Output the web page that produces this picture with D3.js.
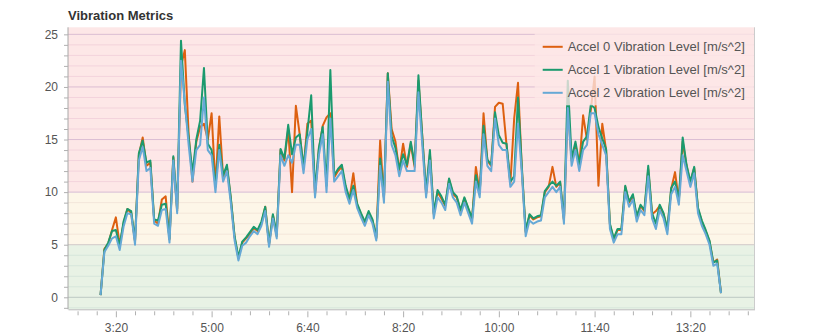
<!DOCTYPE html>
<html>
<head>
<meta charset="utf-8">
<script src="https://cdn.jsdelivr.net/npm/d3@7"></script>
<style>
  body { margin: 0; background: #fff; }
  svg { display: block; font-family: "Liberation Sans", Arial, sans-serif; }
</style>
</head>
<body>
<svg id="chart" width="840" height="336"></svg>
<script>
// Vibration metrics, one reading every 4 minutes from 3:04
const seriesNames = [
  "Accel 0 Vibration Level [m/s^2]",
  "Accel 1 Vibration Level [m/s^2]",
  "Accel 2 Vibration Level [m/s^2]"
];
const startClock = "3:04";
const stepMinutes = 4;

const accel0 = [
  0.2, 4.6, 5.1, 6.4, 7.6, 5.0, 7.0, 8.4, 8.0, 5.3,
  13.5, 15.2, 12.5, 12.8, 7.3, 7.0, 9.3, 9.6, 5.5, 13.3,
  8.2, 22.0, 23.5, 15.5, 11.0, 14.8, 16.2, 16.5, 15.0, 17.5,
  10.5, 17.2, 11.4, 12.4, 9.4, 5.7, 3.7, 5.2, 5.6, 6.0,
  6.6, 6.3, 7.0, 8.6, 5.0, 7.8, 5.8, 14.0, 13.0, 16.0,
  10.0, 18.2, 15.5, 12.2, 16.5, 16.8, 9.8, 14.0, 16.3, 17.1,
  17.5, 11.4, 12.0, 12.4, 10.4, 9.3, 11.8, 8.8, 7.9, 7.1,
  8.0, 7.3, 5.6, 14.9, 9.4, 21.3, 16.0, 14.8, 12.0, 14.6,
  12.4, 14.6, 12.4, 20.6, 15.3, 9.8, 13.6, 7.9, 10.0, 9.4,
  8.7, 11.2, 9.8, 9.5, 8.2, 9.4, 8.4, 7.4, 12.4, 9.9,
  17.5, 13.0, 12.5, 18.1, 18.5, 18.4, 14.5, 10.8, 17.0, 20.4,
  12.2, 6.2, 7.8, 7.4, 7.6, 7.7, 10.0, 10.5, 12.4, 10.5,
  10.9, 7.3, 18.2, 13.0, 14.5, 12.5, 17.3, 15.0, 17.8, 21.0,
  10.6, 16.5, 14.0, 6.9, 5.5, 6.4, 6.4, 10.5, 9.0, 9.6,
  7.6, 8.7, 8.2, 12.2, 7.9, 8.2, 8.7, 7.9, 6.4, 10.3,
  11.9, 9.2, 14.8, 12.5, 10.9, 12.3, 8.4, 7.2, 6.3, 5.3,
  3.3, 3.6, 0.4
];
const accel1 = [
  0.2, 4.5, 5.2, 6.3, 6.4, 4.9, 7.2, 8.4, 8.2, 5.4,
  13.7, 14.9, 12.8, 13.0, 7.4, 7.3, 8.8, 8.9, 5.6, 13.4,
  8.4, 24.4, 18.3, 15.2, 11.8, 15.0, 16.8, 21.8, 14.6, 14.0,
  10.6, 14.5, 11.6, 12.6, 9.5, 5.8, 3.8, 5.3, 5.7, 6.2,
  6.7, 6.4, 7.2, 8.6, 5.1, 7.9, 6.0, 14.1, 13.2, 16.4,
  13.6, 15.2, 15.5, 12.4, 15.7, 19.2, 10.1, 14.2, 16.2, 10.6,
  21.6, 11.6, 12.2, 12.6, 10.6, 9.4, 10.6, 8.9, 8.0, 7.2,
  8.2, 7.4, 5.7, 13.2, 9.5, 21.3, 15.3, 14.2, 12.2, 13.6,
  12.6, 14.8, 12.6, 21.1, 15.3, 10.0, 14.0, 8.0, 10.2, 9.6,
  8.8, 11.3, 10.0, 9.6, 8.3, 9.5, 8.5, 7.5, 11.6, 10.0,
  16.3, 13.1, 12.6, 17.6, 15.4, 14.7, 14.6, 11.0, 11.5, 19.0,
  12.4, 6.3, 7.9, 7.5, 7.7, 7.8, 10.1, 10.6, 11.0, 10.6,
  11.0, 7.4, 20.6, 13.2, 14.8, 12.7, 14.8, 15.3, 18.3, 18.0,
  16.2, 15.1, 14.1, 7.0, 5.6, 6.5, 6.5, 10.6, 9.1, 9.8,
  7.7, 8.8, 8.3, 12.5, 8.0, 7.0, 8.8, 8.0, 6.5, 10.4,
  11.0, 9.3, 15.2, 12.6, 11.0, 12.4, 8.5, 7.3, 6.4, 5.4,
  3.3, 3.5, 0.4
];
const accel2 = [
  0.2, 4.3, 4.9, 5.6, 5.8, 4.5, 6.7, 8.0, 7.9, 5.0,
  13.0, 14.3, 12.0, 12.3, 7.0, 6.8, 8.3, 8.4, 5.2, 13.0,
  8.0, 22.5, 18.5, 14.5, 11.0, 14.0, 14.5, 19.0, 14.0, 13.5,
  10.0, 14.0, 11.0, 12.0, 9.0, 5.4, 3.5, 4.9, 5.2, 5.8,
  6.3, 6.0, 6.8, 8.2, 4.8, 7.5, 5.6, 13.5, 12.5, 13.5,
  12.8, 14.5, 14.5, 11.8, 15.0, 16.0, 9.5, 13.5, 15.5, 10.0,
  17.0, 11.0, 11.5, 12.0, 10.0, 8.9, 10.2, 8.5, 7.6, 6.8,
  7.8, 7.0, 5.4, 12.5, 9.0, 20.5, 14.5, 13.5, 11.5, 13.0,
  12.0, 12.0, 12.0, 19.5, 14.5, 9.5, 13.0, 7.5, 9.5, 9.0,
  8.3, 10.8, 9.5, 9.0, 7.8, 9.0, 8.0, 7.0, 11.0, 9.5,
  15.5, 12.5, 12.0, 17.0, 14.5, 14.0, 14.0, 10.5, 11.0, 16.5,
  11.8, 5.8, 7.3, 7.0, 7.2, 7.3, 9.5, 10.0, 10.5, 10.0,
  10.5, 7.0, 18.0, 12.5, 14.0, 12.0, 14.0, 14.5, 17.5, 17.5,
  15.5, 14.5, 13.5, 6.5, 5.2, 6.0, 6.0, 10.0, 8.6, 9.3,
  7.2, 8.3, 7.8, 11.5, 7.5, 6.5, 8.3, 7.5, 6.0, 9.8,
  10.5, 8.8, 13.5, 12.0, 10.5, 11.8, 8.0, 6.8, 6.0, 5.0,
  3.0, 3.2, 0.4
];

const xDomainClock = ["2:30", "14:27"];
const yDomain = [-1.14, 25.67];
const yTickValues = [0, 5, 10, 15, 20, 25];
const xTickLabels = ["3:20", "5:00", "6:40", "8:20", "10:00", "11:40", "13:20"];
const bandEdges = [5, 10];   // green below 5, yellow 5..10, red above 10

const colors = ["#dd6010", "#1b9a6e", "#66a9d6"];

const width = 840, height = 336;
const margin = { top: 27.3, right: 85.5, bottom: 26.7, left: 68 };
const innerW = width - margin.left - margin.right;
const innerH = height - margin.top - margin.bottom;

const parseClock = d3.timeParse("%H:%M");
const fmtClock = d3.timeFormat("%-H:%M");
const t0 = parseClock(startClock);

const rows = accel0.map((v, i) => ({
  t: d3.timeMinute.offset(t0, i * stepMinutes),
  v: [v, accel1[i], accel2[i]]
}));

const x = d3.scaleTime()
  .domain(xDomainClock.map(parseClock))
  .range([0, innerW]);
const y = d3.scaleLinear().domain(yDomain).range([innerH, 0]);

const svg = d3.select("#chart");

svg.append("text")
  .attr("x", margin.left)
  .attr("y", 20)
  .attr("font-size", 13)
  .attr("font-weight", "bold")
  .attr("fill", "#333")
  .text("Vibration Metrics");

const g = svg.append("g").attr("transform", `translate(${margin.left},${margin.top})`);

// zone bands
const bands = [
  { lo: yDomain[0], hi: bandEdges[0], fill: "#e8f2e5", minor: "#d6e6db", major: "#bcc8c4" },
  { lo: bandEdges[0], hi: bandEdges[1], fill: "#fdf6e8", minor: "#f3e6da", major: "#d0c8c8" },
  { lo: bandEdges[1], hi: yDomain[1], fill: "#fde7e7", minor: "#f3d3dc", major: "#dbbdd3" }
];
g.selectAll("rect.band").data(bands).join("rect")
  .attr("class", "band")
  .attr("x", 0).attr("width", innerW)
  .attr("y", d => y(d.hi)).attr("height", d => y(d.lo) - y(d.hi))
  .attr("fill", d => d.fill);

// grid lines every 1 unit, stronger every 5
const bandOf = v => bands.find(b => v < b.hi) || bands[2];
const gridVals = d3.range(Math.ceil(yDomain[0]), Math.floor(yDomain[1]) + 1);
g.selectAll("line.grid").data(gridVals).join("line")
  .attr("class", "grid")
  .attr("x1", 0).attr("x2", innerW)
  .attr("y1", d => y(d)).attr("y2", d => y(d))
  .attr("stroke", d => {
    if (d === bandEdges[1]) return "#d6bcd4";
    const b = bandOf(d);
    return d % 5 === 0 ? b.major : b.minor;
  })
  .attr("stroke-width", 1);

// plot frame
g.append("line").attr("x1", innerW).attr("x2", innerW).attr("y1", 0).attr("y2", innerH)
  .attr("stroke", "#cccccc");

// series
const line = k => d3.line().x(d => x(d.t)).y(d => y(d.v[k]));
[0, 1, 2].forEach(k => {
  g.append("path")
    .datum(rows)
    .attr("fill", "none")
    .attr("stroke", colors[k])
    .attr("stroke-width", 2)
    .attr("stroke-linejoin", "round")
    .attr("d", line(k));
});

// left axis
const yAxis = d3.axisLeft(y)
  .tickValues(gridVals)
  .tickSize(4)
  .tickPadding(6)
  .tickFormat(d => yTickValues.includes(d) ? d : "");
const ya = g.append("g").call(yAxis);
ya.select(".domain").attr("stroke", "#a8a8a8").attr("d", `M0,0V${innerH}`);
ya.selectAll(".tick line").attr("stroke", "#b0b0b0");
ya.selectAll(".tick text").attr("font-size", 12).attr("fill", "#555").attr("font-family", null);

// bottom axis
const minorTicks = d3.timeMinute.every(20).range(x.domain()[0], x.domain()[1]);
const labelSet = new Set(xTickLabels);
const xAxis = d3.axisBottom(x)
  .tickValues(minorTicks)
  .tickSizeInner(6)
  .tickSizeOuter(0)
  .tickPadding(5)
  .tickFormat(d => labelSet.has(fmtClock(d)) ? fmtClock(d) : "");
const xa = g.append("g").attr("transform", `translate(0,${innerH})`).call(xAxis);
xa.select(".domain").attr("stroke", "#b8b8b8");
xa.selectAll(".tick line")
  .attr("stroke", "#b0b0b0")
  .attr("y1", 2)
  .attr("y2", d => labelSet.has(fmtClock(d)) ? 8 : 6);
xa.selectAll(".tick text").attr("font-size", 12).attr("fill", "#555").attr("font-family", null)
  .attr("dy", "1em").attr("y", 11);

// legend
const legend = g.append("g").attr("transform", `translate(${474.7},${8})`);
legend.append("rect")
  .attr("x", -8).attr("y", -2).attr("width", 219).attr("height", 72)
  .attr("fill", "#fde7e7").attr("fill-opacity", 0.78);
seriesNames.forEach((name, k) => {
  const row = legend.append("g").attr("transform", `translate(0,${11.5 + k * 23})`);
  row.append("line").attr("x1", 0).attr("x2", 20).attr("stroke", colors[k]).attr("stroke-width", 2);
  row.append("text").attr("x", 25).attr("dy", "0.35em")
    .attr("font-size", 13).attr("fill", "#555").text(name);
});
</script>
</body>
</html>
